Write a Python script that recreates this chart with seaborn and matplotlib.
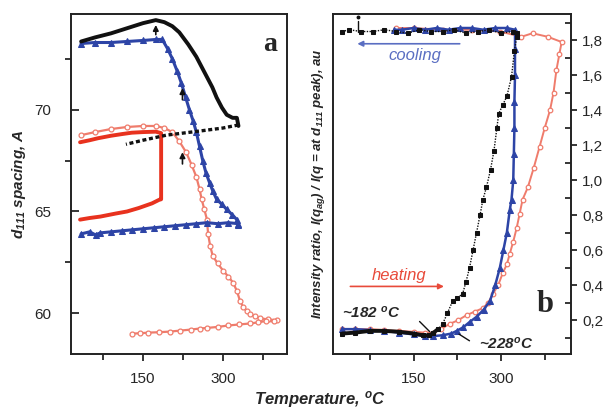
import matplotlib
matplotlib.use("Agg")
import matplotlib.pyplot as plt
from matplotlib.ticker import FixedLocator, MultipleLocator, FuncFormatter
import seaborn as sns

# ---------------- panel a : d111 spacing (A) vs temperature (C) ----------------
a_black_T = [34, 60, 90, 120, 150, 174, 190, 205, 218, 235, 250, 262, 270, 280,
             288, 298, 307, 318, 326, 329]
a_black_d = [73.35, 73.55, 73.75, 74.0, 74.25, 74.4, 74.3, 74.1, 73.8, 73.2, 72.6,
             72.0, 71.6, 71.1, 70.6, 70.1, 69.75, 69.6, 69.6, 69.2]

a_dash_T = [329, 300, 256, 194, 150, 118]
a_dash_d = [69.25, 69.1, 68.95, 68.75, 68.5, 68.3]

a_blue_T = [34, 60, 90, 120, 150, 175, 186, 196, 205, 214, 222, 230, 237, 244, 250,
            256, 262, 268, 275, 281, 288, 298, 307, 317, 326, 329,
            329, 310, 290, 270, 250, 230, 210, 190, 170, 150, 130, 110, 90, 70, 61, 50, 34]
a_blue_d = [73.25, 73.3, 73.3, 73.35, 73.4, 73.45, 73.45, 73.0, 72.5, 71.9, 71.3,
            70.6, 70.0, 69.45, 68.9, 68.2, 67.5, 66.9, 66.4, 66.0, 65.6, 65.35, 65.1,
            64.85, 64.6, 64.35,
            64.4, 64.45, 64.4, 64.45, 64.4, 64.35, 64.3, 64.25, 64.2, 64.15, 64.1,
            64.05, 64.0, 63.95, 63.85, 64.0, 63.9]

a_red_T = [32, 50, 66, 90, 110, 129, 150, 174, 184, 184, 184, 180, 167, 142, 120,
           99, 70, 50, 32]
a_red_d = [68.4, 68.5, 68.6, 68.72, 68.8, 68.87, 68.9, 68.92, 68.85, 67.0, 65.6,
           65.57, 65.4, 65.17, 65.0, 64.9, 64.75, 64.68, 64.6]

a_circ_T = [34, 60, 90, 120, 150, 174, 190, 205, 218, 231, 241, 250, 256, 260, 265,
            270, 272, 276, 281, 290, 300, 310, 319, 326, 332, 338, 345, 351, 360, 370,
            385, 402,
            395, 380, 365, 351, 330, 310, 290, 270, 256, 240, 220, 200, 180, 160, 145, 129]
a_circ_d = [68.75, 68.9, 69.05, 69.15, 69.2, 69.2, 69.1, 68.9, 68.45, 67.9, 67.3,
            66.7, 66.1, 65.6, 65.1, 64.6, 63.9, 63.3, 62.8, 62.45, 62.1, 61.8, 61.5,
            61.1, 60.6, 60.3, 60.1, 59.95, 59.85, 59.75, 59.7, 59.65,
            59.6, 59.62, 59.55, 59.5, 59.45, 59.4, 59.33, 59.28, 59.25, 59.2, 59.15,
            59.1, 59.07, 59.05, 59.02, 59.0]

# ---------------- panel b : intensity ratio vs temperature ----------------
b_black_T = [28, 50, 75, 100, 125, 150, 166, 177, 183, 192, 200, 208, 217, 225, 234,
             240, 246, 252, 258, 264, 269, 275, 282, 288, 293, 296, 303, 310, 318, 323,
             327, 327,
             320, 300, 280, 260, 240, 220, 200, 180, 160, 140, 120, 100, 80, 60, 40, 28]
b_black_I = [0.125, 0.13, 0.14, 0.14, 0.135, 0.125, 0.115, 0.114, 0.126, 0.15, 0.18,
             0.24, 0.31, 0.33, 0.35, 0.42, 0.5, 0.6, 0.7, 0.8, 0.89, 0.96, 1.06, 1.17,
             1.30, 1.38, 1.43, 1.48, 1.59, 1.74, 1.82, 1.84,
             1.85, 1.84, 1.86, 1.85, 1.84, 1.86, 1.85, 1.85, 1.86, 1.84, 1.85, 1.86,
             1.85, 1.85, 1.86, 1.85]
b_black_flat = 10  # first points: the thick flat heating segment

b_blue_T = [28, 50, 75, 100, 125, 150, 170, 183, 200, 215, 224, 235, 246, 258, 270,
            281, 290, 298, 304, 310, 315, 318, 321, 322, 323, 323, 324, 324, 324,
            310, 290, 270, 250, 230, 210, 190, 170, 150, 130, 117]
b_blue_I = [0.15, 0.15, 0.145, 0.14, 0.13, 0.12, 0.11, 0.11, 0.115, 0.125, 0.14,
            0.16, 0.19, 0.22, 0.26, 0.31, 0.40, 0.50, 0.60, 0.70, 0.83, 0.89, 1.0,
            1.15, 1.3, 1.45, 1.6, 1.75, 1.86,
            1.87, 1.87, 1.86, 1.87, 1.87, 1.86, 1.87, 1.86, 1.87, 1.86, 1.86]

b_circ_T = [28, 50, 75, 100, 125, 150, 170, 183, 197, 212, 226, 241, 255, 269, 278,
            286, 295, 303, 310, 315, 321, 327, 332, 337, 346, 356, 366, 375, 384, 390,
            395, 400, 404,
            380, 354, 335, 298, 250, 200, 150, 120]
b_circ_I = [0.15, 0.15, 0.15, 0.145, 0.14, 0.135, 0.13, 0.13, 0.15, 0.18, 0.2, 0.23,
            0.25, 0.27, 0.3, 0.35, 0.4, 0.47, 0.52, 0.58, 0.65, 0.73, 0.81, 0.89, 0.96,
            1.07, 1.19, 1.30, 1.40, 1.50, 1.63, 1.72, 1.79,
            1.82, 1.84, 1.82, 1.85, 1.86, 1.86, 1.87, 1.87]

BLACK = "#111111"
BLUE = "#2d44a6"
RED = "#e8321e"
SALMON = "#ef7c6c"

sns.set_style("ticks")
plt.rcParams['font.family'] = ['Liberation Sans', 'DejaVu Sans']
plt.rcParams['mathtext.fontset'] = 'custom'
plt.rcParams['mathtext.rm'] = 'Liberation Sans:bold:italic'
plt.rcParams['mathtext.it'] = 'Liberation Sans:bold:italic'
plt.rcParams['mathtext.bf'] = 'Liberation Sans:bold:italic'

fig = plt.figure(figsize=(6.11, 4.13), dpi=100)
ax1 = fig.add_axes([71 / 611, 59 / 413, 216 / 611, 340 / 413])
ax2 = fig.add_axes([333 / 611, 59 / 413, 238 / 611, 340 / 413])


def trace(ax, T, y, **kw):
    sns.lineplot(x=T, y=y, ax=ax, sort=False, estimator=None, **kw)


# panel a
trace(ax1, a_circ_T, a_circ_d, color=SALMON, lw=1.6, marker="o", markersize=3.5,
      mfc="white", mec=SALMON, mew=0.9)
trace(ax1, a_blue_T, a_blue_d, color=BLUE, lw=2.2, marker="^", markersize=4,
      mfc=BLUE, mec=BLUE)
trace(ax1, a_red_T, a_red_d, color=RED, lw=2.8)
trace(ax1, a_black_T, a_black_d, color=BLACK, lw=2.8)
trace(ax1, a_dash_T, a_dash_d, color=BLACK, lw=2.4, ls=(0, (1.2, 0.8)))

for x0, y0, y1 in [(174, 73.55, 74.3), (224, 70.35, 71.2), (224, 67.2, 68.05)]:
    ax1.annotate("", xy=(x0, y1), xytext=(x0, y0),
                 arrowprops=dict(arrowstyle="-|>", color=BLACK, lw=1.2,
                                 mutation_scale=8))
ax1.text(389, 73.2, "a", family="Liberation Serif", weight="bold", fontsize=20,
         ha="center", va="center")

ax1.set_xlim(15, 420)
ax1.set_ylim(58, 74.7)
ax1.xaxis.set_major_locator(FixedLocator([150, 300]))
ax1.xaxis.set_minor_locator(FixedLocator([75, 225, 375]))
ax1.yaxis.set_major_locator(FixedLocator([60, 65, 70]))
ax1.yaxis.set_minor_locator(FixedLocator([62.5, 67.5, 72.5]))
ax1.tick_params(axis="y", which="major", direction="in", length=6, width=1.3,
                pad=14, labelsize=11)
ax1.tick_params(axis="y", which="minor", direction="out", length=4, width=1.3)
ax1.set_ylabel(r"$d_{111}$ spacing, A", fontsize=11, weight="bold",
               style="italic", labelpad=5)

# panel b
trace(ax2, b_circ_T, b_circ_I, color=SALMON, lw=1.4, marker="o", markersize=3.3,
      mfc="white", mec=SALMON, mew=0.9)
trace(ax2, b_blue_T, b_blue_I, color=BLUE, lw=1.8, marker="^", markersize=3.8,
      mfc=BLUE, mec=BLUE)
trace(ax2, b_black_T, b_black_I, color=BLACK, lw=1.0, ls=(0, (1, 1)), marker="s",
      markersize=2.6, mfc=BLACK, mec=BLACK)
trace(ax2, b_black_T[:b_black_flat], b_black_I[:b_black_flat], color=BLACK, lw=2.8)
ax2.plot([54, 54], [1.85, 1.91], color=BLACK, lw=1.0)
ax2.plot([54], [1.935], "o", color=BLACK, markersize=1.8)

ax2.annotate("", xy=(49, 1.78), xytext=(234, 1.78),
             arrowprops=dict(arrowstyle="-|>", color="#5a6ec2", lw=1.2,
                             mutation_scale=8))
ax2.text(153, 1.715, "cooling", color="#5a6ec2", style="italic", fontsize=12,
         ha="center", va="center")
ax2.annotate("", xy=(207, 0.394), xytext=(37, 0.394),
             arrowprops=dict(arrowstyle="-|>", color="#e84a3a", lw=1.2,
                             mutation_scale=8))
ax2.text(126, 0.455, "heating", color="#e84a3a", style="italic", fontsize=12,
         ha="center", va="center")
ax2.text(28, 0.245, r"~182 $^{o}$C", weight="bold", style="italic", fontsize=11,
         ha="left", va="center")
ax2.annotate("", xy=(181, 0.125), xytext=(157, 0.205),
             arrowprops=dict(arrowstyle="-", color=BLACK, lw=1.0))
ax2.text(262, 0.07, r"~228$^{o}$C", weight="bold", style="italic", fontsize=11,
         ha="left", va="center")
ax2.annotate("", xy=(224, 0.13), xytext=(250, 0.075),
             arrowprops=dict(arrowstyle="-", color=BLACK, lw=1.0))
ax2.text(375, 0.29, "b", family="Liberation Serif", weight="bold", fontsize=22,
         ha="center", va="center")

ax2.set_xlim(12, 420)
ax2.set_ylim(0.008, 1.95)
ax2.xaxis.set_major_locator(FixedLocator([150, 300]))
ax2.xaxis.set_minor_locator(FixedLocator([75, 225, 375]))
ax2.yaxis.tick_right()
ax2.yaxis.set_label_position("left")
ax2.yaxis.set_major_locator(MultipleLocator(0.2))
ax2.yaxis.set_minor_locator(MultipleLocator(0.1))
ax2.yaxis.set_major_formatter(FuncFormatter(lambda v, p: f"{v:.1f}".replace(".", ",")))
ax2.tick_params(axis="y", which="major", direction="out", length=4, width=1.3,
                pad=4, labelsize=11)
ax2.tick_params(axis="y", which="minor", direction="in", length=4, width=1.3)
ax2.set_ylabel(r"Intensity ratio, I(q$_{ag}$) / I(q = at d$_{111}$ peak), au",
               fontsize=9.5, weight="bold", style="italic", labelpad=4)

for ax in (ax1, ax2):
    ax.set_xlabel("")
    ax.tick_params(axis="x", which="major", direction="out", length=5, width=1.3,
                   pad=8, labelsize=11)
    ax.tick_params(axis="x", which="minor", direction="out", length=4, width=1.3)
    for s in ax.spines.values():
        s.set_visible(True)
        s.set_linewidth(1.4)
        s.set_color("#222222")

fig.text(320 / 611, 1 - 400 / 413, r"Temperature, $^{o}$C", fontsize=12,
         weight="bold", style="italic", ha="center", va="center")

fig.savefig("out.png", dpi=100)
